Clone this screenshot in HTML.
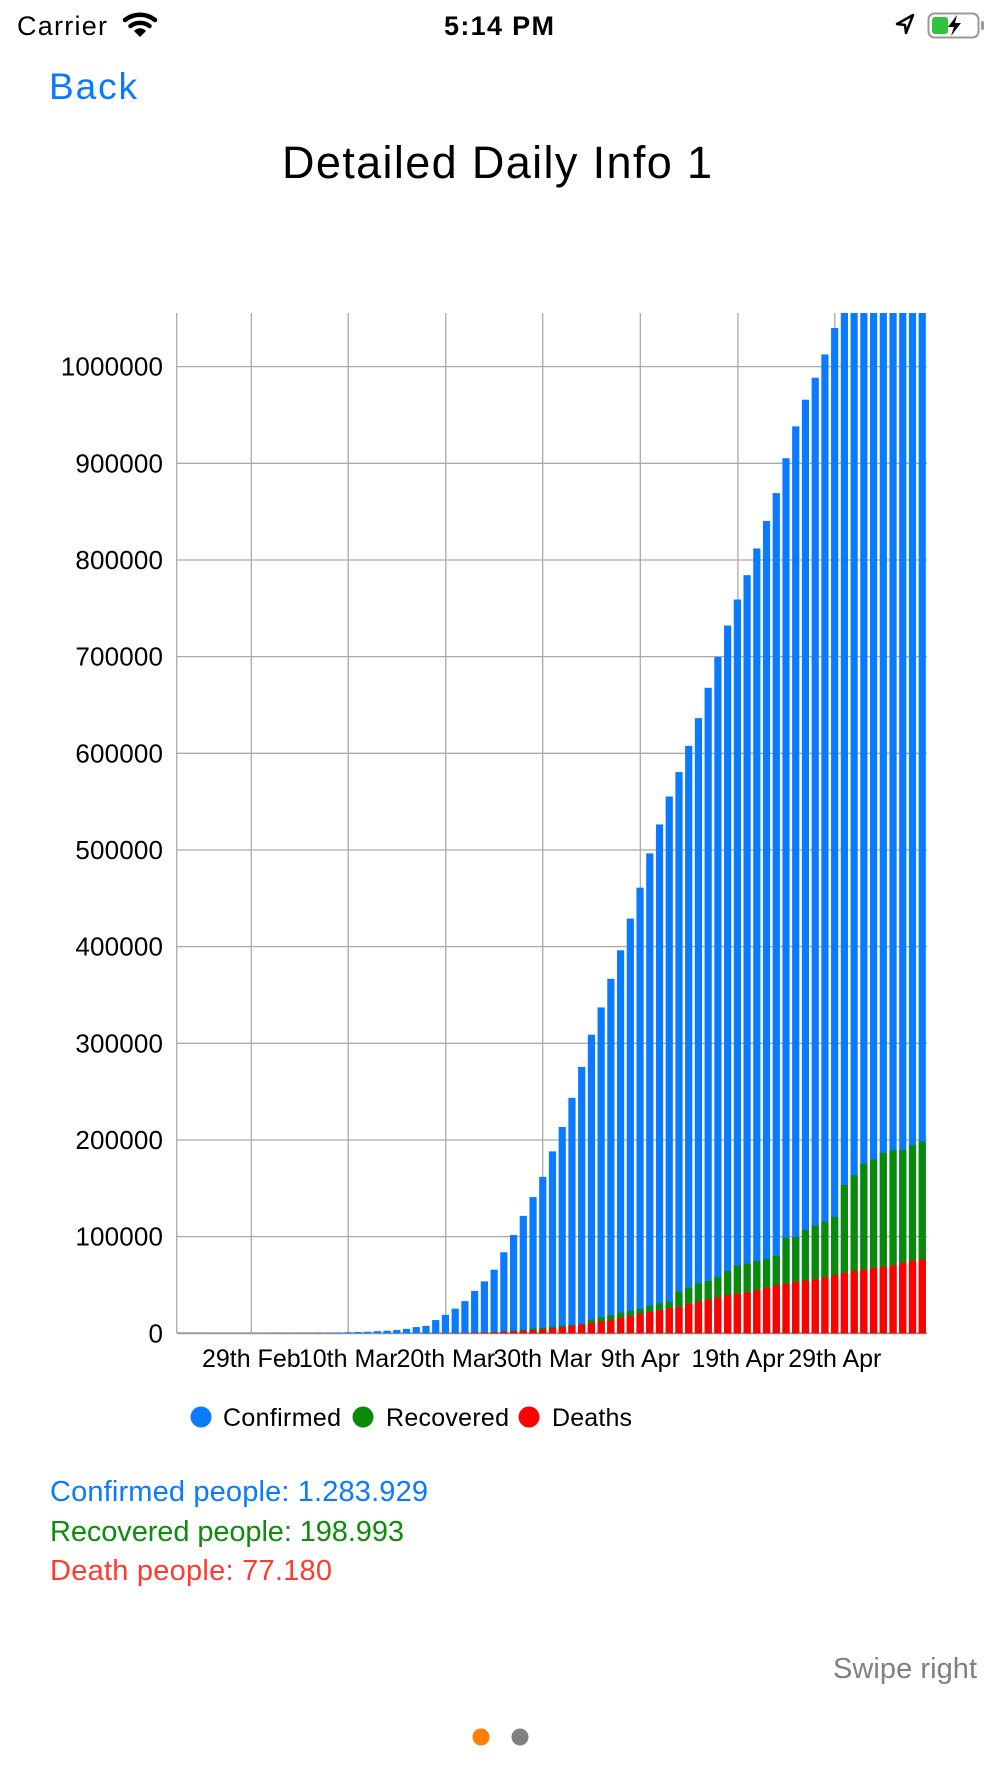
<!DOCTYPE html>
<html><head><meta charset="utf-8">
<style>
html,body{margin:0;padding:0;background:#fff;}
svg{display:block;}
text{font-family:"Liberation Sans",sans-serif;}
</style></head>
<body>
<svg id="s" width="1000" height="1778" viewBox="0 0 1000 1778" xmlns="http://www.w3.org/2000/svg">
<text x="17" y="35" font-size="27" textLength="90" fill="#000">Carrier</text>
<g fill="none" stroke="#000" stroke-width="4.5" stroke-linecap="round">
<path d="M125,20 A24,24 0 0 1 155,20"/>
<path d="M130.5,26 A16,16 0 0 1 149.5,26"/>
</g>
<path d="M134,31 A8,8 0 0 1 146,31 L140,37 Z" fill="#000"/>
<text x="499" y="35" font-size="27" font-weight="bold" text-anchor="middle" textLength="110" fill="#000">5:14 PM</text>
<path d="M913,15 L897,24 L905,25 L906,33 Z" fill="none" stroke="#000" stroke-width="2.5" stroke-linejoin="round"/>
<rect x="928.5" y="13.5" width="50" height="24" rx="6" fill="none" stroke="#999" stroke-width="2"/>
<rect x="981" y="21" width="3" height="9" rx="1.5" fill="#999"/>
<rect x="932" y="17" width="16" height="17" rx="3" fill="#2ec43e"/>
<path d="M957,15 L948,27 L954,27 L951,36 L961,23 L955,23 Z" fill="#000"/>
<text x="49" y="99" font-size="37" fill="#0a7aff" textLength="88">Back</text>
<text x="497" y="178" font-size="45" text-anchor="middle" textLength="430" fill="#000">Detailed Daily Info 1</text>
<g id="grid"></g>
<g id="bars"></g>
<g id="labels"></g>
<circle cx="201" cy="1417" r="10.5" fill="#0a7aff"/>
<text x="223" y="1426" font-size="25" textLength="118" fill="#000">Confirmed</text>
<circle cx="363" cy="1417" r="10.5" fill="#0a8a0a"/>
<text x="386" y="1426" font-size="25" textLength="123" fill="#000">Recovered</text>
<circle cx="529" cy="1417" r="10.5" fill="#ff0000"/>
<text x="552" y="1426" font-size="25" textLength="80" fill="#000">Deaths</text>
<text x="50" y="1501" font-size="29" textLength="378" fill="#0a7aff">Confirmed people: 1.283.929</text>
<text x="50" y="1541" font-size="29" textLength="354" fill="#0e8c0e">Recovered people: 198.993</text>
<text x="50" y="1580" font-size="29" textLength="282" fill="#ff3b30">Death people: 77.180</text>
<text x="977" y="1678" font-size="29" text-anchor="end" textLength="144" fill="#808080">Swipe right</text>
<circle cx="481" cy="1737" r="8.5" fill="#ff8000"/>
<circle cx="520" cy="1737" r="8.5" fill="#808080"/>
</svg>
<script>
(function(){
var NS="http://www.w3.org/2000/svg";
function el(p,t,a,txt){var e=document.createElementNS(NS,t);for(var k in a)e.setAttribute(k,a[k]);if(txt)e.textContent=txt;document.getElementById(p).appendChild(e);}
var y0=1333.3,sc=0.00096667,top=313,L=177,R=927;
for(var i=0;i<=10;i++){var y=y0-i*100000*sc;el("grid","line",{x1:L,x2:R,y1:y,y2:y,stroke:i==0?"#999":"#aaa","stroke-width":i==0?2:1.3});
 var s=String(i*100000);var a={x:163,y:y+9,"font-size":26,"text-anchor":"end",fill:"#000"};if(s.length>1)a.textLength=(s.length*14.6).toFixed(1);
 el("labels","text",a,s);}
var gx=[176.7,251.3,348.2,445.8,542.7,640.3,737.9,834.8];
gx.forEach(function(x){el("grid","line",{x1:x,x2:x,y1:top,y2:y0,stroke:"#aaa","stroke-width":1.3});});
var xl=["29th Feb","10th Mar","20th Mar","30th Mar","9th Apr","19th Apr","29th Apr"];
xl.forEach(function(t,i){el("labels","text",{x:gx[i+1],y:1367,"font-size":25,"text-anchor":"middle",fill:"#000"},t);});
var conf={}, rec={}, dea={};
var early=[15,15,15,15,15,15,20,25,30,35,40,50,60,70,100,120,150,200,260,400,500,600,1000,1300,1600,2200,2700,3500,4600,6400];
for(var i=0;i<early.length;i++){conf[-early.length+i]=early[i];}
var mc=[7700,13700,19100,25500,33300,43800,53700,65800,83800,101700,121500,140900,161800,188200,213400,243600,275600,308900,337100,366700,396200,429000,461000,496500,526400,555300,580600,607700,636400,667800,699700,732200,759100,784300,811900,840400,869200,905300,938200,965800,988500,1012600,1039900,1070000,1100000,1130000,1160000,1180000,1200000,1230000,1260000,1284000];
for(var i=0;i<mc.length;i++)conf[i]=mc[i];
var md=[200,250,350,450,600,800,1000,1300,1700,2000,2500,3200,4100,5100,6200,7900,9000,10700,12400,13800,16200,17900,20300,22000,24100,26200,27200,30300,32800,34800,37200,39700,41000,42400,44800,47200,49700,51400,53400,54500,55900,57900,60300,62400,64500,65900,67600,68600,70300,72800,75200,76600];
var mr=[150,150,150,150,200,400,800,1000,1500,2500,3500,5000,6000,7000,7900,8600,9700,14100,16900,19000,21400,23100,25200,28600,31000,32800,43100,47200,51700,54100,58300,64500,70000,72100,74800,76900,80000,99000,99700,106900,111400,115500,120300,153400,163400,175500,179700,186600,189700,189700,194800,198600];
for(var i=0;i<md.length;i++){dea[i]=md[i];rec[i]=mr[i];}
var w=7.2;
function bar(k,v,c){if(!v)return;var x=426+9.73*k;var y=Math.max(top,y0-v*sc);var h=y0-y;if(h<=0)return;
 el("bars","rect",{x:(x-w/2).toFixed(2),y:y.toFixed(2),width:w,height:h.toFixed(2),fill:c});}
for(var k=-early.length;k<=51;k++){
 var x=426+9.73*k; if(x-w/2<L)continue;
 bar(k,conf[k],"#0a7aff");bar(k,rec[k],"#0a8a0a");bar(k,dea[k],"#ff0000");}
})();
</script>
</body></html>
